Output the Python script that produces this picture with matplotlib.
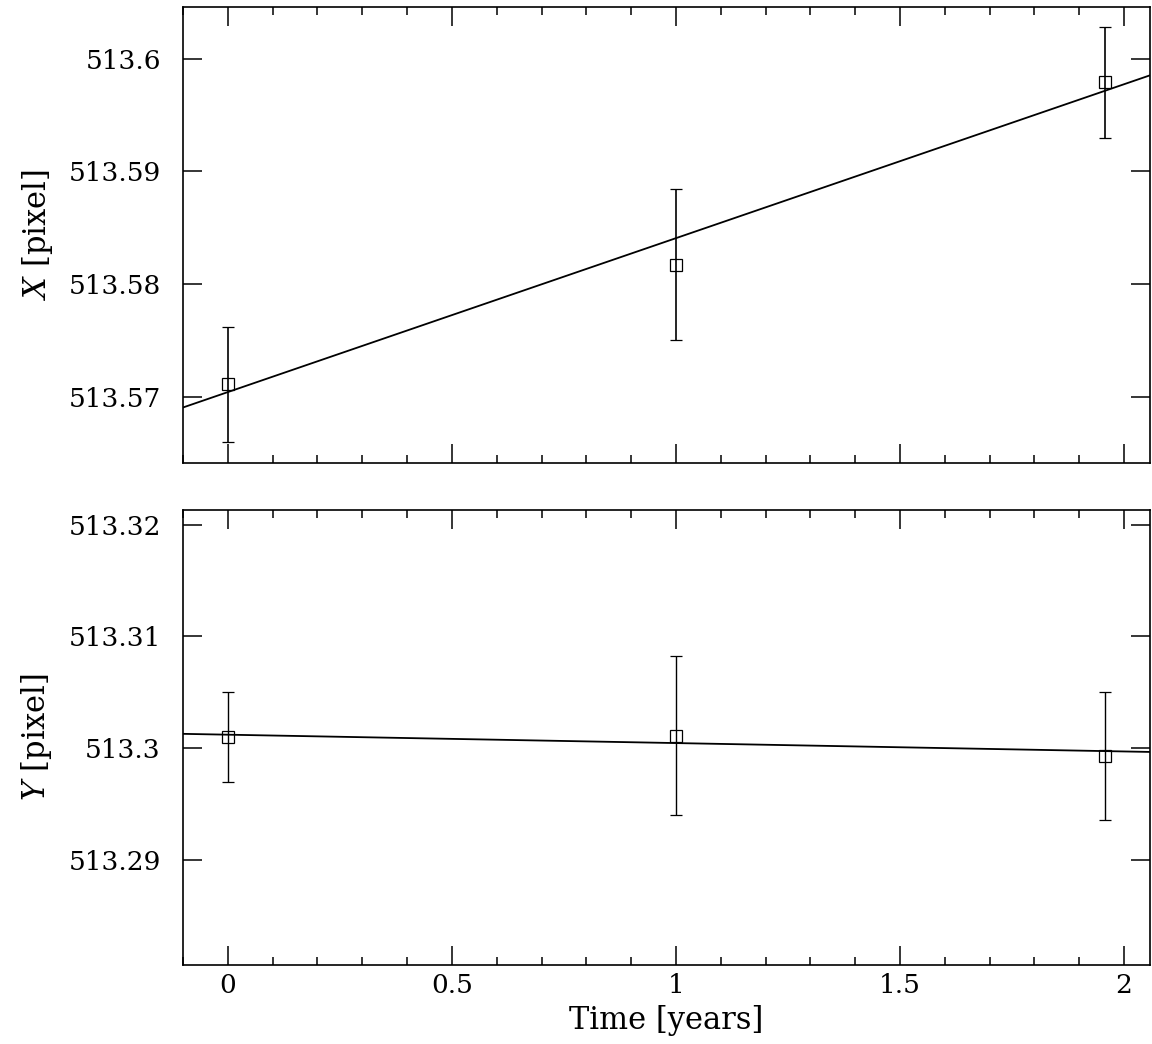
import matplotlib
matplotlib.use('Agg')
import numpy as np
import matplotlib.pyplot as plt
from matplotlib.ticker import MultipleLocator

# epochs (years) and measured centroid positions
time = [0.0, 1.0, 1.958]
x_pos = [513.5711, 513.5817, 513.5979]
x_err = [0.0051, 0.0067, 0.0049]
y_pos = [513.3010, 513.3011, 513.2993]
y_err = [0.0040, 0.0071, 0.0057]

# linear fits (intercept, slope per year)
x_fit = [513.5704, 0.01367]
y_fit = [513.3012, -0.00075]

plt.rcParams['font.family'] = ['DejaVu Serif']
plt.rcParams['mathtext.fontset'] = 'dejavuserif'

fig = plt.figure(figsize=(11.52, 10.44), dpi=100)
ax1 = fig.add_axes([0.1589, 0.5565, 0.8394, 0.4368])
ax2 = fig.add_axes([0.1589, 0.0757, 0.8394, 0.4358])

xlim = (-0.1, 2.058)
tt = np.array(xlim)


def style(ax):
    ax.set_xlim(*xlim)
    ax.xaxis.set_major_locator(MultipleLocator(0.5))
    ax.xaxis.set_minor_locator(MultipleLocator(0.1))
    ax.yaxis.set_major_locator(MultipleLocator(0.01))
    ax.tick_params(which='both', direction='in', top=True, right=True,
                   width=1.1, labelsize=19)
    ax.tick_params(which='major', length=14)
    ax.tick_params(which='minor', length=6)
    ax.tick_params(axis='y', pad=16)
    ax.tick_params(axis='x', pad=6)
    for s in ax.spines.values():
        s.set_linewidth(1.2)
    ax.yaxis.set_major_formatter(plt.FuncFormatter(lambda v, p: ('%.3f' % v).rstrip('0').rstrip('.')))
    ax.xaxis.set_major_formatter(plt.FuncFormatter(lambda v, p: ('%.1f' % v).rstrip('0').rstrip('.')))


# X panel
ax1.errorbar(time, x_pos, yerr=x_err, fmt='s', mfc='none', mec='black',
             ms=8.5, mew=0.9, ecolor='black', elinewidth=1.2, capsize=4, capthick=1.2)
ax1.plot(tt, x_fit[0] + x_fit[1] * tt, color='black', lw=1.3)
style(ax1)
ax1.set_ylim(513.5641, 513.6046)
ax1.tick_params(labelbottom=False)
ax1.set_ylabel(r'$X$ [pixel]', fontsize=22, labelpad=10)

# Y panel
ax2.errorbar(time, y_pos, yerr=y_err, fmt='s', mfc='none', mec='black',
             ms=8.5, mew=0.9, ecolor='black', elinewidth=1.0, capsize=4, capthick=1.0)
ax2.plot(tt, y_fit[0] + y_fit[1] * tt, color='black', lw=1.3)
style(ax2)
ax2.set_ylim(513.2806, 513.3213)
ax2.set_ylabel(r'$Y$ [pixel]', fontsize=22, labelpad=10)
ax2.set_xlabel('Time [years]', fontsize=22, labelpad=5)

fig.savefig('out.png', dpi=100)
